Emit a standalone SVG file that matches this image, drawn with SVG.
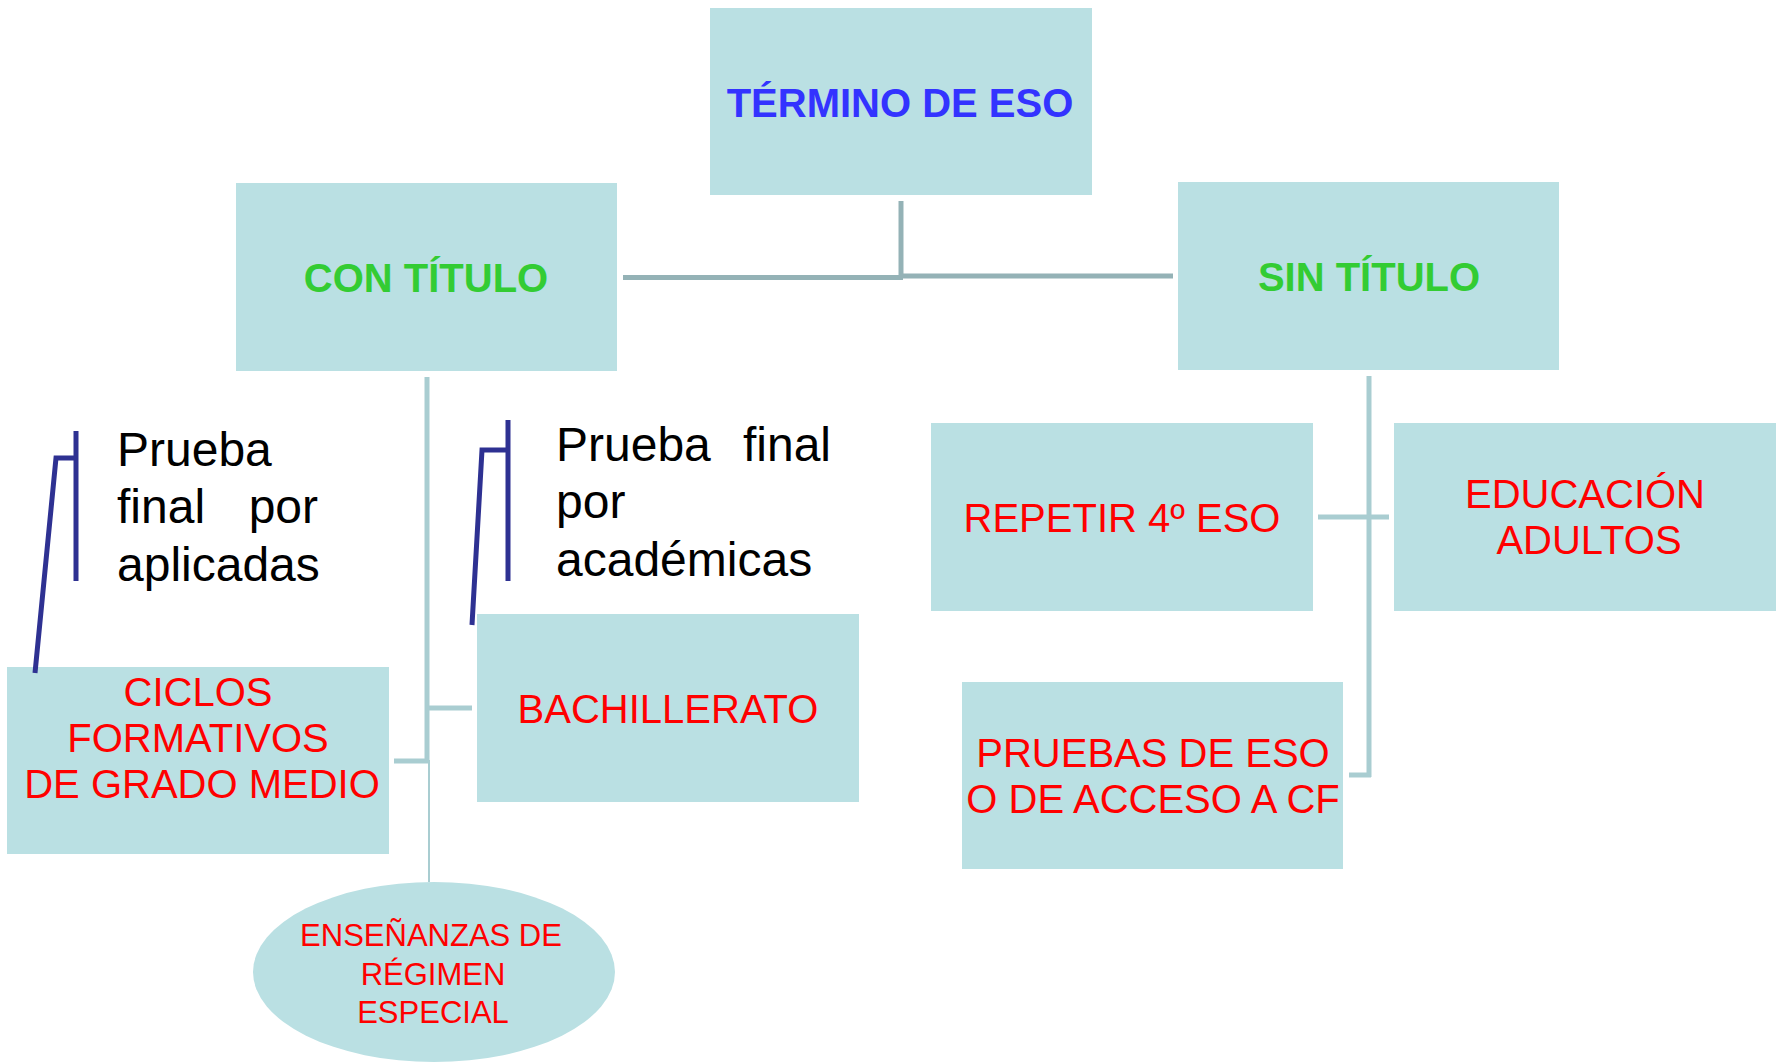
<svg xmlns="http://www.w3.org/2000/svg" width="1777" height="1062" viewBox="0 0 1777 1062">
<style>
.box{fill:#BAE0E3}
.t{font-family:"Liberation Sans",Arial,sans-serif;text-anchor:middle}
.red{fill:#FF0000;font-size:40px}
.grn{fill:#33CC33;font-size:40px;font-weight:bold}
.blu{fill:#3333FF;font-size:40px;font-weight:bold}
.blk{font-family:"Liberation Sans",Arial,sans-serif;font-size:48px;fill:#000}
.c1{stroke:#94B2B6;stroke-width:5;fill:none}
.c2{stroke:#A9CDD1;stroke-width:5;fill:none}
.br{stroke:#2E3192;stroke-width:5;fill:none}
</style>
<rect width="1777" height="1062" fill="#FFFFFF"/>
<g id="connectors">
<path class="c1" d="M901,201 V277"/>
<path class="c1" d="M623,277.5 H903"/>
<path class="c1" d="M899,276 H1173"/>
<path class="c2" d="M427,377 V763"/>
<path class="c2" d="M394,761 H429"/>
<path class="c2" d="M427,708 H472"/>
<path d="M429,760 V882" stroke="#A9CDD1" stroke-width="2" fill="none"/>
<path class="c2" d="M1369,376 V777"/>
<path class="c2" d="M1349,775 H1371"/>
<path class="c2" d="M1318,517 H1389"/>
</g>
<g id="termino">
<rect class="box" x="710" y="8" width="382" height="187"/>
<text class="t blu" x="900" y="117">TÉRMINO DE ESO</text>
</g>
<g id="con-titulo">
<rect class="box" x="236" y="183" width="381" height="188"/>
<text class="t grn" x="426" y="292">CON TÍTULO</text>
</g>
<g id="sin-titulo">
<rect class="box" x="1178" y="182" width="381" height="188"/>
<text class="t grn" x="1369" y="291">SIN TÍTULO</text>
</g>
<g id="prueba-aplicadas">
<text class="blk" x="117" y="466">Prueba</text>
<text class="blk" x="117" y="523">final</text>
<text class="blk" x="318" y="523" text-anchor="end">por</text>
<text class="blk" x="117" y="581">aplicadas</text>
</g>
<g id="prueba-academicas">
<text class="blk" x="556" y="461">Prueba</text>
<text class="blk" x="831" y="461" text-anchor="end">final</text>
<text class="blk" x="556" y="518">por</text>
<text class="blk" x="556" y="576">académicas</text>
</g>
<g id="ciclos">
<rect class="box" x="7" y="667" width="382" height="187"/>
<text class="t red" x="198" y="706">CICLOS</text>
<text class="t red" x="198" y="752">FORMATIVOS</text>
<text class="t red" x="202" y="798">DE GRADO MEDIO</text>
</g>
<g id="bachillerato">
<rect class="box" x="477" y="614" width="382" height="188"/>
<text class="t red" x="668" y="723">BACHILLERATO</text>
</g>
<g id="ensenanzas">
<ellipse class="box" cx="434" cy="972" rx="181" ry="90"/>
<text class="t red" x="431" y="946" style="font-size:31px">ENSEÑANZAS DE</text>
<text class="t red" x="433" y="985" style="font-size:31px">RÉGIMEN</text>
<text class="t red" x="433" y="1023" style="font-size:31px">ESPECIAL</text>
</g>
<g id="repetir">
<rect class="box" x="931" y="423" width="382" height="188"/>
<text class="t red" x="1122" y="532">REPETIR 4º ESO</text>
</g>
<g id="educacion">
<rect class="box" x="1394" y="423" width="382" height="188"/>
<text class="t red" x="1585" y="508">EDUCACIÓN</text>
<text class="t red" x="1589" y="554">ADULTOS</text>
</g>
<g id="pruebas">
<rect class="box" x="962" y="682" width="381" height="187"/>
<text class="t red" x="1153" y="767">PRUEBAS DE ESO</text>
<text class="t red" x="1153" y="813">O DE ACCESO A CF</text>
</g>
<g id="brackets">
<path class="br" d="M76,431 V581"/>
<path class="br" d="M35,673 L56,458 H76"/>
<path class="br" d="M508,420 V581"/>
<path class="br" d="M472,625 L482,450 H508"/>
</g>
</svg>
